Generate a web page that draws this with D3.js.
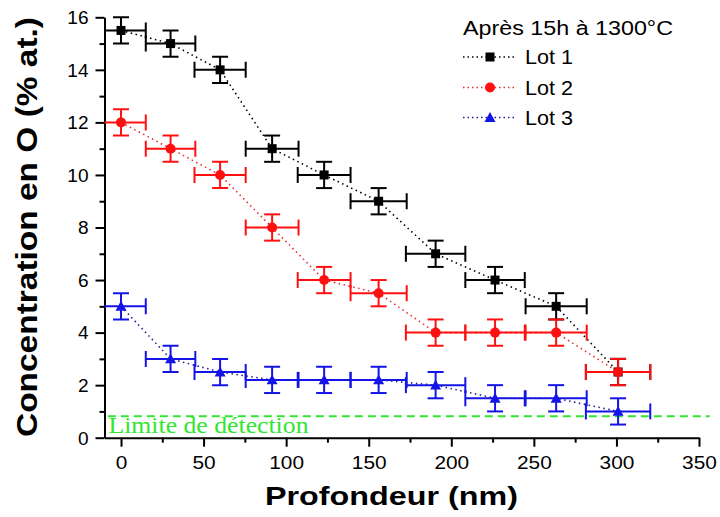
<!DOCTYPE html>
<html>
<head>
<meta charset="utf-8">
<script src="https://cdn.jsdelivr.net/npm/d3@7"></script>
<style>
  html, body { margin: 0; padding: 0; background: #fff; }
  svg { display: block; font-family: "Liberation Sans", Arial, sans-serif; }
</style>
</head>
<body>
<svg id="chart" width="720" height="517"></svg>
<script>
// ---- Data ----
const depth    = [0, 30, 60, 91.5, 123, 156, 190.5, 226.5, 263.5, 301];     // nm
const depthErr = [15, 15, 15.5, 16, 16, 17, 18, 18, 18.5, 19.5];           // nm
const lot1 = [15.5, 15, 14, 11, 10, 9, 7, 6, 5, 2.5];
const lot2 = [12, 11, 10, 8, 6, 5.5, 4, 4, 4, 2.5];
const lot3 = [5, 3, 2.5, 2.2, 2.2, 2.2, 2.0, 1.5, 1.5, 1.0];
const concErr = 0.5;
const detectionLimit = 0.82;
const seriesNames = ["Lot 1", "Lot 2", "Lot 3"];
const seriesColors = ["#000000", "#ff1010", "#1414e6"];
const seriesLineColors = ["#000000", "#e83030", "#202090"];
const seriesSymbols = ["square", "circle", "triangle"];
const xTicks = [0, 50, 100, 150, 200, 250, 300, 350];
const xMinorTicks = [25, 75, 125, 175, 225, 275, 325];
const yTicks = [0, 2, 4, 6, 8, 10, 12, 14, 16];
const yMinorTicks = [1, 3, 5, 7, 9, 11, 13, 15];
const legendTitle = "Après 15h à 1300°C";
const xTitle = "Profondeur (nm)";
const yTitle = "Concentration en O (% at.)";
const limitLabel = "Limite de détection";

const svg = d3.select("#chart");
const x = d3.scaleLinear().domain([-10, 350]).range([104.5, 699]);
const y = d3.scaleLinear().domain([0, 16]).range([437.7, 17.3]);

// clip to plotting region (left of axis hidden)
svg.append("defs").append("clipPath").attr("id", "plotclip")
  .append("rect").attr("x", x(-10)).attr("y", 0).attr("width", 720 - x(-10)).attr("height", 517);

// ---- Axes ----
function styleAxis(g) {
  g.selectAll(".domain").attr("stroke", "#000").attr("stroke-width", 2);
  g.selectAll(".tick line").attr("stroke", "#000").attr("stroke-width", 2);
}
const sans = "'Liberation Sans', Arial, sans-serif";
const gx = svg.append("g").attr("transform", `translate(0,${y(0)})`)
  .call(d3.axisBottom(x).tickValues(xTicks).tickSize(9).tickSizeOuter(0).tickFormat(d3.format("d")));
styleAxis(gx);
gx.selectAll(".tick text").attr("fill", "#000").attr("font-size", 18).style("font-family", sans)
  .attr("y", 31.5).attr("dy", 0)
  .each(function() { const t = d3.select(this); t.attr("textLength", t.text().length * 11.6).attr("lengthAdjust", "spacingAndGlyphs"); });
const gxm = svg.append("g").attr("transform", `translate(0,${y(0)})`)
  .call(d3.axisBottom(x).tickValues(xMinorTicks).tickSize(5).tickSizeOuter(0).tickFormat(""));
styleAxis(gxm);
gxm.select(".domain").remove();

const gy = svg.append("g").attr("transform", `translate(${x(-10)},0)`)
  .call(d3.axisLeft(y).tickValues(yTicks).tickSize(9).tickSizeOuter(0).tickFormat(d3.format("d")));
styleAxis(gy);
gy.selectAll(".tick text").attr("fill", "#000").attr("font-size", 18).style("font-family", sans)
  .attr("x", -16).attr("dy", "0.35em")
  .each(function() { const t = d3.select(this); t.attr("textLength", t.text().length * 10.6).attr("lengthAdjust", "spacingAndGlyphs"); });
const gym = svg.append("g").attr("transform", `translate(${x(-10)},0)`)
  .call(d3.axisLeft(y).tickValues(yMinorTicks).tickSize(5).tickSizeOuter(0).tickFormat(""));
styleAxis(gym);
gym.select(".domain").remove();

// Axis titles
svg.append("text").attr("x", 391.5).attr("y", 505).attr("text-anchor", "middle")
  .attr("font-size", 26).attr("font-weight", "bold").attr("fill", "#000")
  .attr("textLength", 253).attr("lengthAdjust", "spacingAndGlyphs").text(xTitle);
svg.append("text").attr("transform", "translate(37,227) rotate(-90)").attr("text-anchor", "middle")
  .attr("font-size", 30).attr("font-weight", "bold").attr("fill", "#000")
  .attr("textLength", 420).attr("lengthAdjust", "spacingAndGlyphs").text(yTitle);

// ---- Detection limit ----
const green = "#30e630";
svg.append("line").attr("x1", x(-8)).attr("x2", x(356.5))
  .attr("y1", y(detectionLimit)).attr("y2", y(detectionLimit))
  .attr("stroke", green).attr("stroke-width", 2).attr("stroke-dasharray", "8,5");

// ---- Series ----
const plot = svg.append("g").attr("clip-path", "url(#plotclip)");
const allSeries = [lot1, lot2, lot3];
const capHalf = 8;

function drawSymbol(g, type, cx, cy, color) {
  if (type === "square") {
    g.append("rect").attr("x", cx - 4.5).attr("y", cy - 4.5).attr("width", 9).attr("height", 9).attr("fill", color);
  } else if (type === "circle") {
    g.append("circle").attr("cx", cx).attr("cy", cy).attr("r", 5).attr("fill", color);
  } else {
    const s = 5.5;
    g.append("path").attr("d", `M${cx},${cy - s}L${cx + s},${cy + s * 0.8}L${cx - s},${cy + s * 0.8}Z`).attr("fill", color);
  }
}

allSeries.forEach((vals, si) => {
  const color = seriesColors[si];
  const g = plot.append("g");
  const pts = depth.map((d, i) => [d, vals[i]]);
  // dotted connecting line
  g.append("path").datum(pts)
    .attr("d", d3.line().x(d => x(d[0])).y(d => y(d[1])))
    .attr("fill", "none").attr("stroke", seriesLineColors[si]).attr("stroke-width", 1.6)
    .attr("stroke-dasharray", "1.5,3.5");
  // error bars
  pts.forEach((p, i) => {
    const cx = x(p[0]), cy = y(p[1]);
    const xl = x(p[0] - depthErr[i]), xr = x(p[0] + depthErr[i]);
    const yt = y(p[1] + concErr), yb = y(p[1] - concErr);
    const eb = g.append("g").attr("stroke", color).attr("stroke-width", 2).attr("fill", "none");
    eb.append("line").attr("x1", xl).attr("x2", xr).attr("y1", cy).attr("y2", cy);
    eb.append("line").attr("x1", xl).attr("x2", xl).attr("y1", cy - capHalf).attr("y2", cy + capHalf);
    eb.append("line").attr("x1", xr).attr("x2", xr).attr("y1", cy - capHalf).attr("y2", cy + capHalf);
    eb.append("line").attr("x1", cx).attr("x2", cx).attr("y1", yt).attr("y2", yb);
    eb.append("line").attr("x1", cx - capHalf).attr("x2", cx + capHalf).attr("y1", yt).attr("y2", yt);
    eb.append("line").attr("x1", cx - capHalf).attr("x2", cx + capHalf).attr("y1", yb).attr("y2", yb);
  });
  pts.forEach(p => drawSymbol(g, seriesSymbols[si], x(p[0]), y(p[1]), color));
});

// detection label (on top)
svg.append("text").attr("x", 108.5).attr("y", 433)
  .style("font-family", "'Liberation Serif', 'Times New Roman', serif")
  .attr("font-size", 24).attr("fill", green)
  .attr("textLength", 200).attr("lengthAdjust", "spacingAndGlyphs").text(limitLabel);

// ---- Legend ----
const leg = svg.append("g");
leg.append("text").attr("x", 463).attr("y", 35).attr("font-size", 20).attr("fill", "#000")
  .attr("textLength", 210).attr("lengthAdjust", "spacingAndGlyphs").text(legendTitle);
const rowY = [57, 87.5, 117.5];
seriesNames.forEach((name, i) => {
  const cy = rowY[i];
  leg.append("line").attr("x1", 463).attr("x2", 517).attr("y1", cy).attr("y2", cy)
    .attr("stroke", seriesLineColors[i]).attr("stroke-width", 1.3).attr("stroke-dasharray", "1.5,3");
  drawSymbol(leg, seriesSymbols[i], 490, cy, seriesColors[i]);
  leg.append("text").attr("x", 525).attr("y", cy + 7.3).attr("font-size", 20).attr("fill", "#000")
    .attr("textLength", 48).attr("lengthAdjust", "spacingAndGlyphs").text(name);
});
</script>
</body>
</html>
